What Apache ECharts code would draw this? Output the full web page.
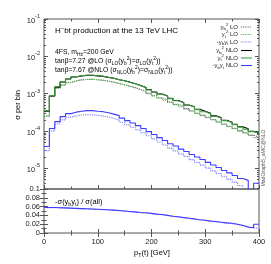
<!DOCTYPE html>
<html><head><meta charset="utf-8">
<script src="https://cdn.jsdelivr.net/npm/echarts@6/dist/echarts.min.js"></script>
<style>html,body{margin:0;padding:0;background:#fff}#c{width:271px;height:264px}</style>
</head><body><div id="c"></div>
<script>
// ---- data ----
const binEdges = [0,10,20,30,40,50,60,70,80,90,100,110,120,130,140,150,160,170,180,190,200,210,220,230,240,250,260,270,280,290,300,310,320,330,340,350,360,370,380,390,400];
const ybLO = [2.5e-4,8.5e-4,1.4e-3,1.7e-3,1.98e-3,2.2e-3,2.35e-3,2.41e-3,2.43e-3,2.38e-3,2.29e-3,2.17e-3,2.04e-3,1.88e-3,1.74e-3,1.6e-3,1.46e-3,1.3e-3,1.16e-3,1.02e-3,8.9e-4,7.8e-4,6.9e-4,6.0e-4,5.2e-4,4.6e-4,4.0e-4,3.5e-4,3.04e-4,2.68e-4,2.35e-4,2.04e-4,1.77e-4,1.55e-4,1.35e-4,1.18e-4,1.03e-4,9.0e-5,7.8e-5,6.9e-5];
const ytLO = [2.55e-4,8.6e-4,1.42e-3,1.72e-3,2.0e-3,2.22e-3,2.36e-3,2.42e-3,2.43e-3,2.37e-3,2.28e-3,2.16e-3,2.02e-3,1.86e-3,1.72e-3,1.58e-3,1.44e-3,1.28e-3,1.14e-3,1.0e-3,8.7e-4,7.6e-4,6.7e-4,5.8e-4,5.1e-4,4.5e-4,3.9e-4,3.4e-4,2.95e-4,2.6e-4,2.28e-4,1.98e-4,1.72e-4,1.5e-4,1.31e-4,1.15e-4,1.0e-4,8.8e-5,7.6e-5,6.7e-5];
const ybytLO = [3.0e-5,1.0e-4,1.55e-4,2.0e-4,2.35e-4,2.55e-4,2.68e-4,2.74e-4,2.72e-4,2.64e-4,2.53e-4,2.38e-4,2.18e-4,1.98e-4,1.72e-4,1.48e-4,1.27e-4,1.08e-4,9.0e-5,7.5e-5,6.2e-5,5.1e-5,4.25e-5,3.5e-5,2.95e-5,2.45e-5,2.08e-5,1.72e-5,1.45e-5,1.23e-5,1.02e-5,8.6e-6,7.3e-6,6.0e-6,5.1e-6,4.3e-6,3.5e-6,0,0,0];
const ybNLO = [3.4e-4,8.7e-4,1.5e-3,2.06e-3,2.48e-3,2.81e-3,3.0e-3,3.09e-3,3.1e-3,3.01e-3,2.92e-3,2.74e-3,2.59e-3,2.37e-3,2.22e-3,2.04e-3,1.86e-3,1.65e-3,1.46e-3,1.29e-3,1.11e-3,9.8e-4,8.7e-4,7.5e-4,6.6e-4,5.85e-4,5.0e-4,4.48e-4,3.82e-4,3.38e-4,3.0e-4,2.56e-4,2.27e-4,1.95e-4,1.73e-4,1.52e-4,1.31e-4,1.16e-4,9.9e-5,8.8e-5];
const ytNLO = [3.52e-4,8.84e-4,1.54e-3,2.09e-3,2.51e-3,2.84e-3,3.02e-3,3.11e-3,3.11e-3,3.02e-3,2.93e-3,2.75e-3,2.59e-3,2.36e-3,2.22e-3,2.03e-3,1.85e-3,1.64e-3,1.45e-3,1.28e-3,1.10e-3,9.7e-4,8.6e-4,7.4e-4,6.5e-4,5.75e-4,4.9e-4,4.4e-4,3.75e-4,3.3e-4,2.93e-4,2.5e-4,2.22e-4,1.9e-4,1.69e-4,1.49e-4,1.28e-4,1.13e-4,9.7e-5,8.6e-5];
const ybytNLO = [3.86e-5,1.17e-4,1.79e-4,2.44e-4,2.93e-4,3.21e-4,3.41e-4,3.52e-4,3.52e-4,3.41e-4,3.31e-4,3.11e-4,2.84e-4,2.59e-4,2.22e-4,1.9e-4,1.64e-4,1.4e-4,1.17e-4,9.7e-5,8.1e-5,6.7e-5,5.6e-5,4.6e-5,4.0e-5,3.3e-5,2.85e-5,2.36e-5,2.03e-5,1.74e-5,1.45e-5,1.24e-5,1.06e-5,8.8e-6,7.6e-6,6.5e-6,5.4e-6,4.8e-6,0,4.0e-6];
const ratioNLO = [0.058,0.058,0.0575,0.057,0.0565,0.056,0.0555,0.055,0.0545,0.054,0.0535,0.053,0.052,0.051,0.050,0.049,0.048,0.0465,0.046,0.0445,0.043,0.042,0.040,0.038,0.037,0.035,0.0335,0.032,0.030,0.029,0.027,0.026,0.0245,0.023,0.022,0.020,0.017,0.013,0.012,0.020];
const ratioLO = [0.0575,0.0578,0.057,0.0565,0.056,0.0555,0.055,0.0545,0.054,0.0535,0.053,0.0522,0.0515,0.0505,0.0495,0.0483,0.047,0.046,0.0452,0.0438,0.0425,0.0412,0.0395,0.0378,0.0362,0.0348,0.033,0.0315,0.030,0.0285,0.0268,0.0255,0.024,0.0225,0.021,0.0195,0.018,0.015,0.012,0.010];
const xTickLabels = [0,100,200,300,400];
const yDecades = [-5,-4,-3,-2,-1];
const ratioTickLabels = [0,0.02,0.04,0.06,0.08,0.1];
const legendNames = ['ybLO','ytLO','ybytLO','ybNLO','ytNLO','ybytNLO'];

// ---- helpers ----
const FF = '"Liberation Sans", Arial, sans-serif';
const LOGMIN = -5.55, LOGMAX = -1;
const FRAME = '#555';
function steps(vals, log) {
  const out = [];
  for (let i = 0; i < vals.length; i++) {
    let v = vals[i];
    if (log) v = v > 0 ? Math.log10(v) : -9;
    out.push([binEdges[i], v], [binEdges[i + 1], v]);
  }
  return out;
}
const minorLog = [];
for (let n = -6; n <= -2; n++) for (let k = 2; k <= 9; k++) {
  const v = n + Math.log10(k);
  if (v > LOGMIN && v < LOGMAX) minorLog.push(v);
}
const richDef = (fs) => ({
  sub: { fontSize: fs * 0.72, fontFamily: FF, verticalAlign: 'bottom', lineHeight: fs * 1.4 },
  sup: { fontSize: fs * 0.72, fontFamily: FF, verticalAlign: 'top', lineHeight: fs * 1.4 }
});

const chart = echarts.init(document.getElementById('c'), null, { renderer: 'canvas' });

const gridMain = { left: 44, top: 19, width: 215, height: 170, show: true, borderColor: FRAME, borderWidth: 1, containLabel: false };
const gridRatio = { left: 44, top: 189, width: 215, height: 44, show: true, borderColor: FRAME, borderWidth: 1, containLabel: false };

function xAx(grid, pos, labels) {
  return {
    type: 'value', gridIndex: grid, position: pos, min: 0, max: 400, interval: 100,
    axisLine: { show: false }, splitLine: { show: false },
    axisTick: { show: true, inside: true, length: 4, lineStyle: { color: FRAME } },
    minorTick: { show: true, splitNumber: 2, length: 2.5, lineStyle: { color: FRAME } },
    axisLabel: { show: labels, fontSize: 7.5, color: '#222', fontFamily: FF, margin: 5,
      customValues: xTickLabels }
  };
}
function yLog(pos, ticks, len, labels) {
  return {
    type: 'value', gridIndex: 0, position: pos, min: LOGMIN, max: LOGMAX,
    axisLine: { show: false }, splitLine: { show: false },
    axisTick: { show: true, inside: true, length: len, customValues: ticks, lineStyle: { color: FRAME } },
    axisLabel: labels ? {
      show: true, customValues: yDecades, margin: 4, color: '#222',
      formatter: v => '{b|10}{s|' + Math.round(v) + '}',
      rich: {
        b: { fontSize: 7.5, fontFamily: FF, color: '#222', lineHeight: 11, verticalAlign: 'bottom' },
        s: { fontSize: 5.5, fontFamily: FF, color: '#222', lineHeight: 11, verticalAlign: 'top' }
      }
    } : { show: false }
  };
}
function yRatio(pos, labels) {
  return {
    type: 'value', gridIndex: 1, position: pos, min: 0, max: 0.1, interval: 0.02,
    axisLine: { show: false }, splitLine: { show: false },
    axisTick: { show: true, inside: true, length: 4, lineStyle: { color: FRAME } },
    minorTick: { show: true, splitNumber: 2, length: 2.5, lineStyle: { color: FRAME } },
    axisLabel: { show: labels, fontSize: 7.5, color: '#222', fontFamily: FF, margin: 4,
      customValues: ratioTickLabels }
  };
}

const COLS = { ybLO: '#6a6a6a', ytLO: '#5aae5a', ybytLO: '#7c7cff', ybNLO: '#000000', ytNLO: '#3c9c3c', ybytNLO: '#3c3cff' };
const legendLabel = {
  ybLO: 'y{sub|b}{sup|2} LO',
  ytLO: 'y{sub|t}{sup|2} LO',
  ybytLO: '-y{sub|b}y{sub|t} LO',
  ybNLO: 'y{sub|b}{sup|2} NLO',
  ytNLO: 'y{sub|t}{sup|2} NLO',
  ybytNLO: '-y{sub|b}y{sub|t} NLO'
};
const DOT = [1.2, 1];
const LW = 1.1;
function histSeries(name, vals, dotted) {
  return {
    name, type: 'line', xAxisIndex: 0, yAxisIndex: 0, data: steps(vals, true),
    symbol: 'none', showSymbol: false, clip: true, animation: false,
    lineStyle: { color: COLS[name], width: LW, type: dotted ? DOT : 'solid' }
  };
}

// legend drawn as graphic (text + line sample)
const legendRowsY = [27, 34.5, 42, 50.5, 58, 65.5];
const legendGraphic = [];
legendNames.forEach((n, i) => {
  const dotted = n.indexOf('NLO') < 0;
  legendGraphic.push({ type: 'text', x: 238, y: legendRowsY[i], style: { text: legendLabel[n], fontSize: 6, fontFamily: FF, fill: '#222', align: 'right', verticalAlign: 'middle', lineHeight: 8, rich: richDef(6) } });
  legendGraphic.push({ type: 'line', shape: { x1: 241, y1: legendRowsY[i], x2: 252, y2: legendRowsY[i] }, style: { stroke: COLS[n], lineWidth: LW, lineDash: dotted ? DOT : null } });
});

const option = {
  backgroundColor: '#fff',
  animation: false,
  grid: [gridMain, gridRatio],
  xAxis: [xAx(0, 'bottom', false), xAx(0, 'top', false), xAx(1, 'bottom', true), xAx(1, 'top', false)],
  yAxis: [
    yLog('left', yDecades, 4, true), yLog('left', minorLog, 2, false),
    yLog('right', yDecades, 4, false), yLog('right', minorLog, 2, false),
    yRatio('left', true), yRatio('right', false)
  ],
  series: [
    histSeries('ybLO', ybLO, true),
    histSeries('ytLO', ytLO, true),
    histSeries('ybytLO', ybytLO, true),
    histSeries('ybNLO', ybNLO, false),
    histSeries('ytNLO', ytNLO, false),
    histSeries('ybytNLO', ybytNLO, false),
    { name: 'ratioLO', type: 'line', xAxisIndex: 2, yAxisIndex: 4, data: steps(ratioLO, false), symbol: 'none', clip: true,
      lineStyle: { color: COLS.ybytLO, width: LW, type: DOT } },
    { name: 'ratioNLO', type: 'line', xAxisIndex: 2, yAxisIndex: 4, data: steps(ratioNLO, false), symbol: 'none', clip: true,
      lineStyle: { color: COLS.ybytNLO, width: LW } }
  ],
  graphic: [
    { type: 'text', x: 55, y: 31, style: { text: 'H{sup|−}bt production at the 13 TeV LHC', fontSize: 8, fontFamily: FF, fill: '#000', verticalAlign: 'middle', lineHeight: 11, rich: richDef(8) } },
    { type: 'text', x: 55, y: 52, style: { text: '4FS, m{sub|H±}=200 GeV', fontSize: 6.8, fontFamily: FF, fill: '#000', verticalAlign: 'middle', lineHeight: 9, rich: richDef(6.8) } },
    { type: 'text', x: 55, y: 61, style: { text: 'tanβ=7.27 @LO (σ{sub|LO}(y{sub|b}{sup|2})=σ{sub|LO}(y{sub|t}{sup|2}))', fontSize: 6.8, fontFamily: FF, fill: '#000', verticalAlign: 'middle', lineHeight: 9, rich: richDef(6.8) } },
    { type: 'text', x: 55, y: 70, style: { text: 'tanβ=7.67 @NLO (σ{sub|NLO}(y{sub|b}{sup|2})=σ{sub|NLO}(y{sub|t}{sup|2}))', fontSize: 6.8, fontFamily: FF, fill: '#000', verticalAlign: 'middle', lineHeight: 9, rich: richDef(6.8) } },
    { type: 'text', x: 55, y: 202, style: { text: '-σ(y{sub|b}y{sub|t}) / σ(all)', fontSize: 7.5, fontFamily: FF, fill: '#000', verticalAlign: 'middle', lineHeight: 10, rich: richDef(7.5) } },
    { type: 'text', x: 18, y: 105, rotation: Math.PI / 2, style: { text: 'σ per bin', fontSize: 7.5, fontFamily: FF, fill: '#000', align: 'center', verticalAlign: 'middle' } },
    { type: 'text', x: 152, y: 253, style: { text: 'p{sub|T}(t) [GeV]', fontSize: 7.5, fontFamily: FF, fill: '#000', align: 'center', verticalAlign: 'middle', lineHeight: 10, rich: richDef(7.5) } },
    { type: 'text', x: 264, y: 158, rotation: Math.PI / 2, style: { text: 'MadGraph5_aMC@NLO', fontSize: 5.2, fontFamily: FF, fill: '#555', align: 'center', verticalAlign: 'middle' } }
  ].concat(legendGraphic)
};
chart.setOption(option);
</script></body></html>
